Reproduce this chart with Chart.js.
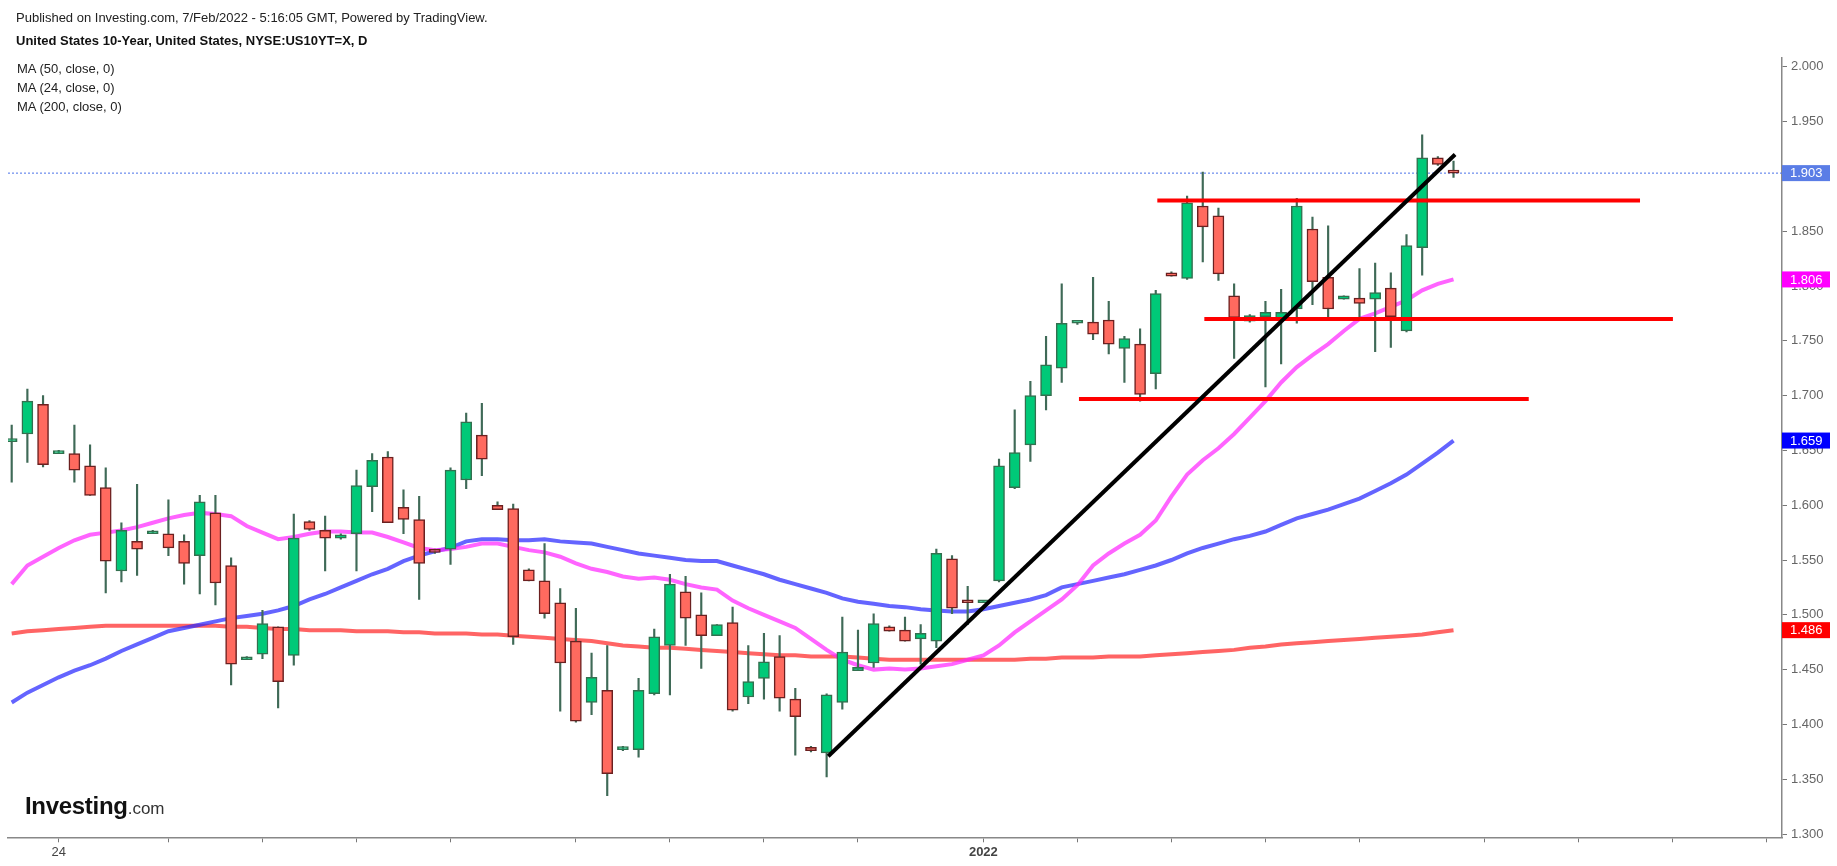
<!DOCTYPE html>
<html>
<head>
<meta charset="utf-8">
<script src="https://cdn.jsdelivr.net/npm/chart.js@4.4.1/dist/chart.umd.min.js"></script>
<style>
  body { margin: 0; background: #fff; overflow: hidden; }
  #wrap { position: relative; width: 1837px; height: 866px; }
  canvas { position: absolute; left: 0; top: 0; }
  .txt { position: absolute; font-family: "Liberation Sans", Arial, sans-serif; font-size: 13px; line-height: 15px; color: #222; white-space: nowrap; }
  .logo { position: absolute; left: 25px; top: 794px; font-family: "Liberation Sans", Arial, sans-serif; line-height: 24px; white-space: nowrap; color: #111; }
</style>
</head>
<body>
<div id="wrap">
  <canvas id="myChart" width="1837" height="866"></canvas>
  <div class="txt" style="left:16px;top:10px;">Published on Investing.com, 7/Feb/2022 - 5:16:05 GMT, Powered by TradingView.</div>
  <div class="txt" style="left:16px;top:33px;font-weight:bold;color:#111;">United States 10-Year, United States, NYSE:US10YT=X, D</div>
  <div class="txt" style="left:17px;top:61px;">MA (50, close, 0)</div>
  <div class="txt" style="left:17px;top:80px;">MA (24, close, 0)</div>
  <div class="txt" style="left:17px;top:99px;">MA (200, close, 0)</div>
  <div class="logo"><span style="font-size:24px;font-weight:bold;letter-spacing:-0.3px;">Investing</span><span style="font-size:17px;color:#333;">.com</span></div>
</div>
<script>
// daily candles
const openV  = [1.658,1.665,1.692,1.647,1.647,1.636,1.616,1.540,1.567,1.574,1.574,1.567,1.554,1.593,1.545,1.459,1.464,1.489,1.463,1.585,
                1.577,1.570,1.574,1.617,1.644,1.598,1.587,1.559,1.560,1.623,1.664,1.600,1.597,1.541,1.531,1.511,1.476,1.420,1.431,1.377,
                1.377,1.428,1.472,1.521,1.500,1.481,1.493,1.425,1.442,1.462,1.423,1.379,1.374,1.420,1.449,1.456,1.489,1.486,1.478,1.476,
                1.551,1.512,1.511,1.531,1.616,1.655,1.700,1.725,1.766,1.767,1.769,1.743,1.747,1.720,1.812,1.807,1.873,1.864,1.791,1.768,
                1.772,1.770,1.779,1.852,1.808,1.788,1.789,1.788,1.798,1.759,1.835,1.917,1.904];
const highV  = [1.673,1.706,1.700,1.650,1.673,1.655,1.634,1.584,1.619,1.577,1.605,1.573,1.609,1.609,1.552,1.462,1.504,1.489,1.592,1.586,
                1.590,1.574,1.632,1.647,1.649,1.614,1.608,1.560,1.634,1.684,1.693,1.603,1.601,1.542,1.565,1.524,1.506,1.465,1.472,1.380,
                1.442,1.487,1.537,1.535,1.520,1.491,1.507,1.472,1.483,1.481,1.433,1.380,1.428,1.498,1.486,1.501,1.490,1.498,1.491,1.560,
                1.554,1.526,1.512,1.642,1.687,1.713,1.754,1.802,1.766,1.808,1.786,1.754,1.761,1.796,1.813,1.882,1.904,1.871,1.802,1.774,
                1.786,1.797,1.880,1.863,1.855,1.791,1.816,1.821,1.812,1.847,1.938,1.918,1.914];
const lowV   = [1.621,1.639,1.635,1.647,1.621,1.609,1.520,1.530,1.536,1.574,1.554,1.528,1.519,1.509,1.436,1.459,1.460,1.415,1.454,1.577,
                1.540,1.569,1.540,1.594,1.584,1.574,1.514,1.556,1.546,1.615,1.627,1.596,1.473,1.531,1.497,1.412,1.402,1.409,1.335,1.376,
                1.370,1.427,1.427,1.472,1.451,1.481,1.412,1.419,1.423,1.412,1.372,1.375,1.352,1.414,1.449,1.452,1.485,1.476,1.455,1.470,
                1.501,1.491,1.511,1.530,1.615,1.640,1.687,1.712,1.765,1.751,1.738,1.712,1.695,1.706,1.809,1.806,1.822,1.805,1.734,1.767,
                1.708,1.729,1.766,1.783,1.772,1.788,1.771,1.740,1.744,1.758,1.810,1.910,1.899];
const closeV = [1.660,1.695,1.637,1.648,1.632,1.609,1.549,1.577,1.560,1.576,1.561,1.547,1.603,1.529,1.455,1.461,1.492,1.439,1.570,1.578,
                1.570,1.573,1.618,1.641,1.584,1.587,1.547,1.557,1.632,1.676,1.642,1.596,1.480,1.531,1.501,1.456,1.403,1.443,1.355,1.379,
                1.431,1.480,1.528,1.497,1.481,1.491,1.413,1.439,1.457,1.424,1.407,1.376,1.427,1.466,1.452,1.492,1.485,1.476,1.483,1.556,
                1.506,1.511,1.512,1.636,1.648,1.700,1.728,1.766,1.766,1.756,1.747,1.752,1.701,1.793,1.809,1.876,1.854,1.811,1.771,1.773,
                1.776,1.776,1.873,1.804,1.779,1.791,1.784,1.794,1.772,1.837,1.917,1.911,1.903];

// moving averages
const ma50  = [1.420,1.429,1.436,1.443,1.449,1.454,1.460,1.467,1.473,1.479,1.485,1.488,1.491,1.494,1.497,1.499,1.501,1.504,1.508,1.514,
               1.519,1.525,1.531,1.537,1.542,1.549,1.554,1.558,1.561,1.567,1.569,1.569,1.568,1.568,1.569,1.567,1.566,1.565,1.562,1.559,
               1.556,1.554,1.552,1.550,1.549,1.549,1.545,1.541,1.537,1.532,1.528,1.524,1.520,1.515,1.512,1.510,1.508,1.507,1.505,1.504,
               1.503,1.503,1.505,1.508,1.511,1.514,1.518,1.525,1.528,1.531,1.534,1.537,1.541,1.545,1.550,1.556,1.561,1.565,1.569,1.572,
               1.576,1.582,1.588,1.592,1.596,1.601,1.606,1.613,1.620,1.628,1.638,1.648,1.659];
const ma24  = [1.528,1.545,1.553,1.561,1.568,1.573,1.575,1.577,1.580,1.584,1.588,1.591,1.593,1.592,1.590,1.581,1.575,1.569,1.571,1.574,
               1.576,1.576,1.575,1.575,1.571,1.566,1.561,1.559,1.560,1.562,1.565,1.565,1.562,1.559,1.557,1.553,1.547,1.542,1.539,1.535,
               1.533,1.534,1.532,1.528,1.525,1.523,1.513,1.506,1.500,1.494,1.488,1.478,1.468,1.459,1.454,1.450,1.451,1.450,1.451,1.453,
               1.455,1.459,1.463,1.472,1.484,1.494,1.504,1.514,1.527,1.545,1.556,1.565,1.573,1.586,1.608,1.628,1.641,1.652,1.665,1.680,
               1.695,1.712,1.726,1.737,1.747,1.759,1.770,1.775,1.781,1.787,1.796,1.802,1.806];
const ma200 = [1.483,1.485,1.486,1.487,1.488,1.489,1.490,1.490,1.490,1.490,1.490,1.490,1.490,1.490,1.489,1.489,1.488,1.487,1.487,1.486,
               1.486,1.486,1.485,1.485,1.485,1.484,1.484,1.483,1.483,1.483,1.482,1.482,1.481,1.480,1.479,1.478,1.477,1.476,1.474,1.472,
               1.471,1.470,1.470,1.469,1.468,1.467,1.466,1.465,1.464,1.463,1.463,1.462,1.462,1.462,1.461,1.460,1.459,1.459,1.459,1.459,
               1.459,1.459,1.459,1.459,1.459,1.460,1.460,1.461,1.461,1.461,1.462,1.462,1.462,1.463,1.464,1.465,1.466,1.467,1.468,1.470,
               1.471,1.473,1.474,1.475,1.476,1.477,1.478,1.479,1.480,1.481,1.482,1.484,1.486];

// drawn lines (candle index, price)
const trendX = [52.1, 92.1];
const trendY = [1.371, 1.920];
const levelY     = [1.878, 1.770, 1.697];
const levelStart = [73.1, 76.1, 68.1];
const levelEnd   = [103.9, 106.0, 96.8];

// x axis marks (candle index) and their labels
const tickIdx = [3, 10, 16, 22, 28, 36, 42, 48, 54, 62, 68, 74, 80, 86, 94, 100, 106, 112];
const tickText = { 3: '24', 62: '2022' };

const xMin = -0.236, xMax = 112.96;
const yMin = 1.297, yMax = 2.0084;

const idx = closeV.map((v, i) => i);
const upCol = '#00c978', dnCol = '#ff6a5f';
const bodyColors = idx.map(i => closeV[i] >= openV[i] ? upCol : dnCol);
const bodyBorders = idx.map(i => closeV[i] >= openV[i] ? '#33704f' : '#6b2020');
const last = closeV[closeV.length - 1];

const lineDs = (vals, color, order) => ({
  type: 'line',
  data: vals.map((v, i) => ({ x: i, y: v })),
  borderColor: color,
  borderWidth: 4,
  pointRadius: 0,
  tension: 0,
  order: order
});

const datasets = [
  lineDs(ma200, 'rgba(255,40,40,0.72)', 6),
  lineDs(ma50, 'rgba(40,40,255,0.72)', 5),
  lineDs(ma24, 'rgba(255,40,255,0.72)', 4),
  {
    type: 'bar',
    data: idx.map(i => ({ x: i, y: [lowV[i], highV[i]] })),
    backgroundColor: '#3f6a57',
    barThickness: 1.5,
    minBarLength: 1,
    grouped: false,
    order: 3
  },
  {
    type: 'bar',
    data: idx.map(i => ({ x: i, y: [openV[i], closeV[i]] })),
    backgroundColor: bodyColors,
    borderColor: bodyBorders,
    borderWidth: 1.5,
    borderSkipped: false,
    barThickness: 11,
    minBarLength: 3,
    grouped: false,
    order: 2
  },
  {
    type: 'line',
    data: [{ x: xMin, y: last }, { x: xMax, y: last }],
    borderColor: '#4a72e8',
    borderWidth: 1,
    borderDash: [2, 2],
    pointRadius: 0,
    order: 7
  },
  {
    type: 'line',
    data: trendX.map((x, i) => ({ x: x, y: trendY[i] })),
    borderColor: '#000',
    borderWidth: 4,
    pointRadius: 0,
    order: 0
  }
];
levelY.forEach((v, k) => {
  datasets.push({
    type: 'line',
    data: [{ x: levelStart[k], y: v }, { x: levelEnd[k], y: v }],
    borderColor: '#ff0000',
    borderWidth: 4,
    pointRadius: 0,
    order: 1
  });
});

// coloured value boxes on the price axis
const boxes = [
  [last, '#5a7de6'],
  [ma24[ma24.length - 1], '#ff00ff'],
  [ma50[ma50.length - 1], '#0000ff'],
  [ma200[ma200.length - 1], '#ff0000']
];
const axisBoxes = {
  id: 'axisBoxes',
  afterDraw(chart) {
    const c = chart.ctx, ys = chart.scales.y, x0 = chart.chartArea.right;
    c.save();
    c.font = '13px "Liberation Sans", Arial, sans-serif';
    c.textBaseline = 'middle';
    boxes.forEach(([v, col]) => {
      const y = ys.getPixelForValue(v);
      c.fillStyle = col;
      c.fillRect(x0, y - 8, 48, 16);
      c.fillStyle = '#fff';
      c.fillText(v.toFixed(3), x0 + 8, y + 0.5);
    });
    c.restore();
  }
};

const ctx = document.getElementById('myChart').getContext('2d');
const myChart = new Chart(ctx, {
  type: 'bar',
  data: { datasets: datasets },
  options: {
    responsive: false,
    animation: false,
    devicePixelRatio: 1,
    layout: { padding: { left: 8, top: 57.6, right: 0, bottom: 0 } },
    plugins: { legend: { display: false }, tooltip: { enabled: false } },
    scales: {
      x: {
        type: 'linear',
        min: xMin,
        max: xMax,
        offset: false,
        afterBuildTicks: s => { s.ticks = tickIdx.map(v => ({ value: v })); },
        afterFit: s => { s.height = 28.7; },
        grid: { offset: false, drawOnChartArea: false, drawTicks: true, tickLength: 5, color: '#777' },
        border: { color: '#888', width: 1.5 },
        ticks: {
          autoSkip: false,
          maxRotation: 0,
          padding: 2,
          color: '#444',
          font: c => ({ family: '"Liberation Sans", Arial, sans-serif', size: 13,
                        weight: (c.tick && c.tick.value === 62) ? 'bold' : 'normal' }),
          callback: v => tickText[v] || ''
        }
      },
      y: {
        position: 'right',
        min: yMin,
        max: yMax,
        afterFit: s => { s.width = 55; },
        grid: { drawOnChartArea: false, drawTicks: true, tickLength: 5, color: '#777' },
        border: { color: '#888', width: 1.5 },
        ticks: {
          stepSize: 0.05,
          includeBounds: false,
          padding: 4,
          color: '#666',
          font: { family: '"Liberation Sans", Arial, sans-serif', size: 13 },
          callback: v => Number(v).toFixed(3)
        }
      }
    }
  },
  plugins: [axisBoxes]
});
</script>
</body>
</html>
